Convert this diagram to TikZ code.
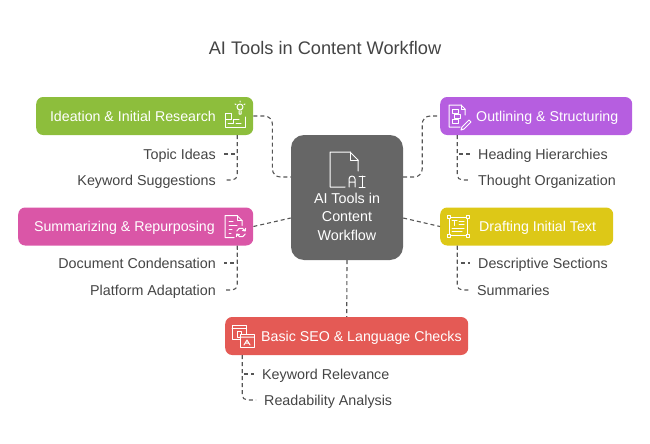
\documentclass[tikz,border=0pt]{standalone}
\usepackage{fontspec}
\setmainfont{Liberation Sans}
\usetikzlibrary{positioning}
\definecolor{ideagreen}{HTML}{8DBE3C}
\definecolor{summpink}{HTML}{DA56A7}
\definecolor{outlpurple}{HTML}{B65EE0}
\definecolor{draftyellow}{HTML}{DDC817}
\definecolor{seored}{HTML}{E45A55}
\definecolor{hubgray}{HTML}{666666}
\definecolor{inkgray}{HTML}{444444}
\definecolor{linkgray}{HTML}{555555}
\tikzset{
  topicbox/.style={rounded corners=7pt, minimum height=38pt, inner sep=0pt},
  boxtext/.style={text=white, inner sep=0pt, text height=10pt, text depth=0pt, font=\fontsize{14.2}{17}\selectfont},
  leaf/.style={text=inkgray, inner xsep=8pt, inner ysep=0pt, text height=10pt, text depth=0pt, font=\fontsize{14.3}{17}\selectfont},
  link/.style={draw=linkgray, line width=1.1pt, dash pattern=on 4pt off 3pt},
  glyph/.style={draw=white, line width=1pt, line cap=round, line join=round},
}
\begin{document}
\begin{tikzpicture}[x=1pt,y=-1pt]
    \useasboundingbox (0,0) rectangle (650,444);
    \node[text=inkgray, font=\fontsize{18.2}{22}\selectfont] (title) at (325,48) {AI Tools in Content Workflow};
    % centre
    \node[topicbox, fill=hubgray, minimum width=112pt, minimum height=125pt, rounded corners=13pt] (hub) at (347,197.5) {};
    \node[text=white, inner sep=0pt, align=center, font=\fontsize{14.3}{18.5}\selectfont] (hublabel) at (347,216.5) {AI Tools in\\Content\\Workflow};
    \draw[glyph] (345,187) -- (330,187) -- (330,152) -- (350,152) -- (358,160) -- (358,171);
    \draw[glyph] (350,152) -- (350,160) -- (358,160);
    \draw[glyph] (349,187) -- (349,179) arc (180:360:3) -- (355,187) (349,182) -- (355,182);
    \draw[glyph] (359,176) -- (365,176) (362,176) -- (362,187) (359,187) -- (365,187);
    % topics
    \node[topicbox, fill=ideagreen, minimum width=217pt, anchor=west] (ideation) at (36,116) {};
    \node[boxtext, anchor=east] (ideationlabel) at (216,116) {Ideation \& Initial Research};
    \node[topicbox, fill=summpink, minimum width=235pt, anchor=west] (summarizing) at (18,226.5) {};
    \node[boxtext, anchor=east] (summarizinglabel) at (215,226.5) {Summarizing \& Repurposing};
    \node[topicbox, fill=outlpurple, minimum width=192pt, anchor=west] (outlining) at (440,116) {};
    \node[boxtext, anchor=west] (outlininglabel) at (476,116) {Outlining \& Structuring};
    \node[topicbox, fill=draftyellow, minimum width=173pt, anchor=west] (drafting) at (440,226.5) {};
    \node[boxtext, anchor=west] (draftinglabel) at (479,226.5) {Drafting Initial Text};
    \node[topicbox, fill=seored, minimum width=243pt, anchor=west] (seo) at (225,336) {};
    \node[boxtext, anchor=west] (seolabel) at (261,336) {Basic SEO \& Language Checks};
    % icons
    \begin{scope}[shift={(235,116)}]
      \draw[glyph] (-10,-3) rectangle (-4,3);
      \draw[glyph] (-10,3) -- (-10,11) -- (10,11) -- (10,1);
      \draw[glyph] (-7,7) -- (-2,7) -- (-2,3) -- (4,3) (1,7) -- (6,7);
      \draw[glyph] (5,-9) circle (3) (4,-5) -- (4,-2) -- (6,-2) -- (6,-5);
      \draw[glyph] (5,-15) -- (5,-14) (0,-12) -- (1,-11.5) (10,-12) -- (9,-11.5);
    \end{scope}
    \begin{scope}[shift={(235,226.5)}]
      \draw[glyph] (-1,11) -- (-10,11) -- (-10,-11) -- (2,-11) -- (7,-6) -- (7,-1);
      \draw[glyph] (2,-11) -- (2,-6) -- (7,-6);
      \draw[glyph] (-6,-5) -- (-2,-5) (-6,-1) -- (2,-1) (-6,3) -- (-3,3) (-6,7) -- (-4,7);
      \draw[glyph] (1.8,4.5) arc (200:340:4.5) -- ++(0.3,-2.6) (10.2,4.5) -- ++(-2.6,-0.6);
      \draw[glyph] (10.2,7.5) arc (20:160:4.5) -- ++(-0.3,2.6) (1.8,7.5) -- ++(2.6,0.6);
    \end{scope}
    \begin{scope}[shift={(458,116)}]
      \draw[glyph] (2,11) -- (-9,11) -- (-9,-11) -- (3,-11) -- (7,-7) -- (7,-1);
      \draw[glyph] (3,-11) -- (3,-7) -- (7,-7);
      \draw[glyph] (-6,-7) rectangle (0,-3) (-4,-2) rectangle (2,2) (-6,3) rectangle (0,7);
      \draw[glyph] (4,11) -- (11,4) -- (13,6) -- (6,13) -- (3,14) -- cycle;
    \end{scope}
    \begin{scope}[shift={(458,226.5)}]
      \draw[glyph] (-9,-9) rectangle (9,9);
      \draw[glyph, fill=draftyellow] (-11,-11) rectangle (-8,-8) (8,-11) rectangle (11,-8) (-11,8) rectangle (-8,11) (8,8) rectangle (11,11);
      \draw[glyph] (-6,-6) -- (-1,-6) (-3.5,-6) -- (-3.5,-1) (1,-5) -- (6,-5) (1,-2) -- (6,-2) (-6,2) -- (6,2) (-6,5) -- (4,5);
    \end{scope}
    \begin{scope}[shift={(243,336)}]
      \draw[glyph] (-11,-11) rectangle (3,3) (-11,-8) -- (3,-8);
      \draw[glyph] (-6,-5) rectangle (-2,1);
      \draw[glyph, fill=seored] (-3,-2) rectangle (11,11);
      \draw[glyph] (-3,1) -- (11,1) (1,9) -- (4,4) -- (7,9) (2.5,7) -- (5.5,7);
    \end{scope}
    % subtopics
    \node[leaf, anchor=east] (topicideas) at (224,154) {Topic Ideas};
    \node[leaf, anchor=east] (keywordsugg) at (224,180) {Keyword Suggestions};
    \node[leaf, anchor=east] (condensation) at (224,263) {Document Condensation};
    \node[leaf, anchor=east] (adaptation) at (224,290) {Platform Adaptation};
    \node[leaf, anchor=west] (headings) at (470,154) {Heading Hierarchies};
    \node[leaf, anchor=west] (thoughts) at (470,180) {Thought Organization};
    \node[leaf, anchor=west] (descriptive) at (470,263) {Descriptive Sections};
    \node[leaf, anchor=west] (summaries) at (469,290) {Summaries};
    \node[leaf, anchor=west] (relevance) at (254,374) {Keyword Relevance};
    \node[leaf, anchor=west] (readability) at (256,400) {Readability Analysis};
    % hub links
    \draw[link, rounded corners=8pt] (ideation.east) -- ++(19,0) |- ([yshift=20.5pt]hub.west);
    \draw[link, rounded corners=8pt] ([yshift=20.5pt]hub.east) -- ++(19,0) |- (outlining.west);
    \draw[link] (summarizing.east) -- ([yshift=-20.5pt]hub.west);
    \draw[link] ([yshift=-20.5pt]hub.east) -- (drafting.west);
    \draw[link] (hub.south) -- (seo.north);
    % subtopic links
    \coordinate (ideationspine) at ([xshift=92.5pt]ideation.south);
    \coordinate (summarizingspine) at ([xshift=101.5pt]summarizing.south);
    \coordinate (outliningspine) at ([xshift=-79pt]outlining.south);
    \coordinate (draftingspine) at ([xshift=-69.5pt]drafting.south);
    \coordinate (seospine) at ([xshift=-104.5pt]seo.south);
    \draw[link] (ideationspine) |- (topicideas);
    \draw[link, rounded corners=5pt] (ideationspine) |- (keywordsugg);
    \draw[link] (summarizingspine) |- (condensation);
    \draw[link, rounded corners=5pt] (summarizingspine) |- (adaptation);
    \draw[link] (outliningspine) |- (headings);
    \draw[link, rounded corners=5pt] (outliningspine) |- (thoughts);
    \draw[link] (draftingspine) |- (descriptive);
    \draw[link, rounded corners=5pt] (draftingspine) |- (summaries);
    \draw[link] (seospine) |- (relevance);
    \draw[link, rounded corners=5pt] (seospine) |- (readability);
\end{tikzpicture}
\end{document}
